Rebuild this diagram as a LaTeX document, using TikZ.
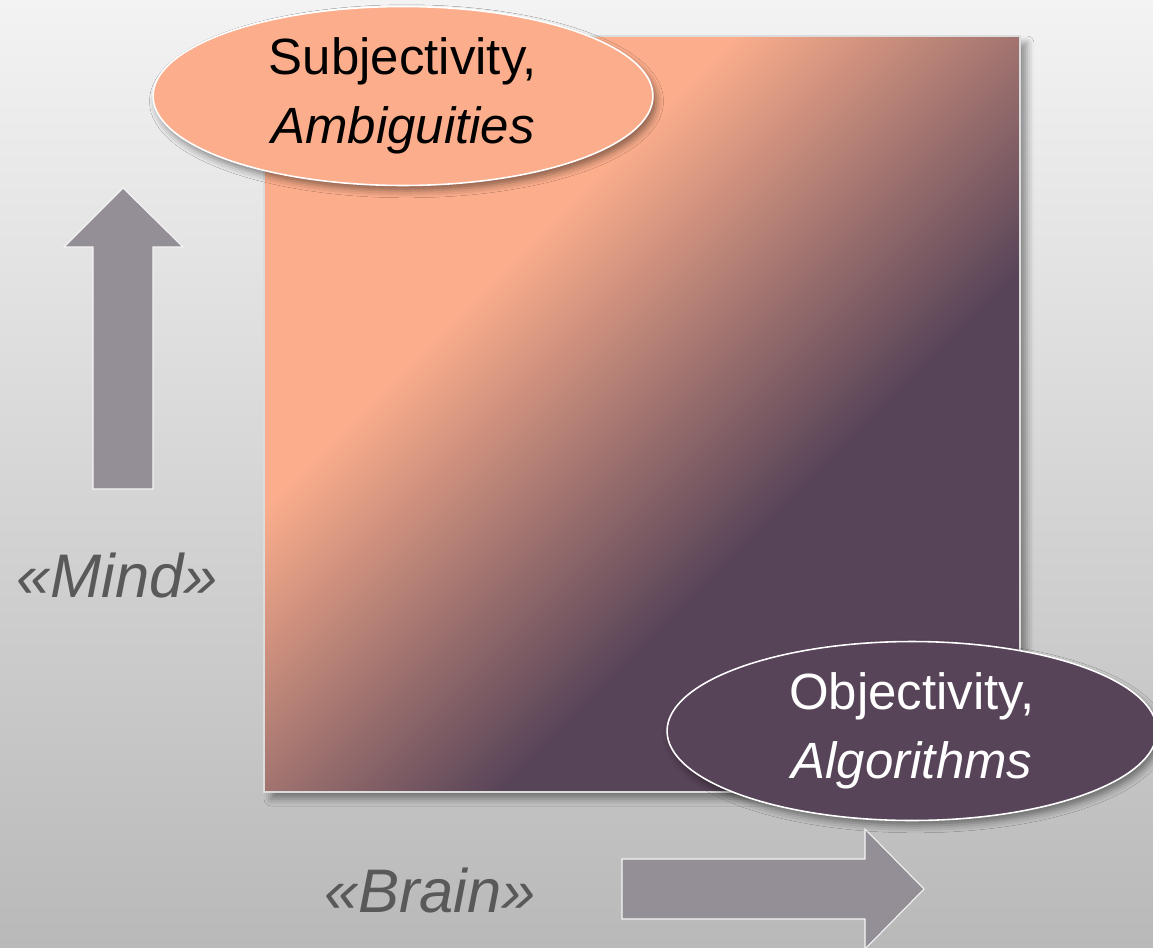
\documentclass[tikz,border=0pt]{standalone}
\usepackage{fontspec}
\setmainfont{Liberation Sans}
\usetikzlibrary{shapes.geometric,shadows.blur}

\definecolor{salm}{HTML}{FCAE8C}
\definecolor{plum}{HTML}{584458}
\definecolor{bgtop}{HTML}{F3F3F3}
\definecolor{bgbot}{HTML}{B9B9B9}
\definecolor{arrowgray}{HTML}{948F97}
\definecolor{lblgray}{HTML}{595959}
\definecolor{rim}{HTML}{DCDCDC}

\tikzset{
  bubble/.style={ellipse, draw=white, line width=0.9pt, minimum height=3.58cm,
    inner sep=0pt, align=center, font=\fontsize{29}{39}\selectfont,
    blur shadow={shadow xshift=2pt, shadow yshift=-3pt, shadow blur radius=4pt, shadow opacity=45}},
  blockarrow/.style={fill=arrowgray, draw=white!92!gray, line width=0.6pt},
  axislbl/.style={font=\fontsize{35}{40}\selectfont\itshape, text=lblgray, inner sep=0pt, anchor=base}
}

\begin{document}
\begin{tikzpicture}[x=0.02cm, y=-0.02cm]
    \useasboundingbox (0,0) rectangle (1153,947);
    \shade[top color=bgtop, bottom color=bgbot] (0,0) rectangle (1153,947);
    % block arrows
    \draw[blockarrow] (93,489) -- (93,247) -- (64,247) -- (123,188) -- (183,247) -- (153,247) -- (153,489) -- cycle;
    \draw[blockarrow] (622,859) -- (865,859) -- (865,829) -- (924,889) -- (865,949) -- (865,919) -- (622,919) -- cycle;
    % the square
    \node[minimum size=15.12cm, inner sep=0pt, fill=salm,
      blur shadow={shadow xshift=4pt, shadow yshift=-4pt, shadow blur radius=4pt, shadow opacity=40}] (sq) at (642,414) {};
    \begin{scope}
        \clip (sq.north west) rectangle (sq.south east);
        \begin{scope}[transform canvas={rotate around={-45:(264,36)}}]
            \fill[plum] (960,-1200) rectangle (1500,1300);
            \shade[left color=salm, right color=plum] (595,-1200) rectangle (965,1300);
        \end{scope}
    \end{scope}
    \draw[rim, line width=1.3pt] (sq.north west) rectangle (sq.south east);
    % labels
    \node[bubble, fill=salm, minimum width=10cm] (subj) at (403,96) {Subjectivity,\\\textit{Ambiguities}};
    \node[bubble, fill=plum, text=white, minimum width=9.8cm] (obj) at (912,731) {Objectivity,\\\textit{Algorithms}};
    \node[axislbl] (mind) at (117,597) {«Mind»};
    \node[axislbl] (brain) at (430,912) {«Brain»};
\end{tikzpicture}
\end{document}
